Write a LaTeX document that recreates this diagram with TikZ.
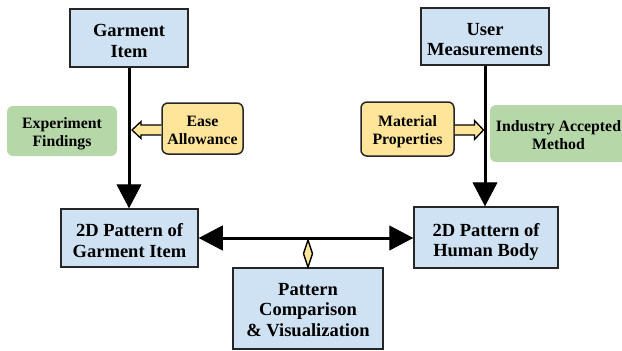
\documentclass[tikz,border=0pt]{standalone}
\usepackage{fontspec}
\setmainfont{Liberation Serif}
\usetikzlibrary{arrows.meta,calc}
\definecolor{boxblue}{HTML}{CFE2F3}
\definecolor{boxyellow}{HTML}{FFE599}
\definecolor{boxgreen}{HTML}{B6D7A8}
\tikzset{bigtip/.tip={Triangle[length=24pt,width=25pt,line width=1pt]}}
\begin{document}
\begin{tikzpicture}[x=1pt,y=-1pt,
  mainbox/.style={draw=black!85, line width=1.5pt, fill=boxblue, align=center, inner sep=0pt,
    font=\fontsize{18.5}{20.8}\selectfont\bfseries, text height=40pt, text depth=1.4pt},
  threelines/.style={text height=58pt, text depth=1.8pt},
  sidebox/.style={draw=black!85, line width=1.5pt, fill=boxyellow, rounded corners=6pt, align=center, inner sep=0pt,
    font=\fontsize{15.8}{18}\selectfont\bfseries, text height=33pt, text depth=2pt},
  greenbox/.style={fill=boxgreen, rounded corners=6pt, align=center, inner sep=0pt,
    font=\fontsize{15.8}{18}\selectfont\bfseries, text height=33pt, text depth=2pt},
  bigarrow/.style={line width=3pt},
  blockarrow/.style={draw=black, line width=1.3pt, fill=boxyellow, line join=miter},
]
\useasboundingbox (0,0) rectangle (622,351);

\node[mainbox, minimum width=118pt, minimum height=58pt] (garment) at (129,38) {Garment\\Item};
\node[mainbox, minimum width=128pt, minimum height=57pt] (user) at (485,36.5) {User\\Measurements};
\node[greenbox, minimum width=110pt, minimum height=50pt] (exp) at (62,131) {Experiment\\Findings};
\node[sidebox, minimum width=81pt, minimum height=51pt] (ease) at (202.5,128.5) {Ease\\Allowance};
\node[sidebox, minimum width=93pt, minimum height=54pt] (mat) at (407.5,129) {Material\\Properties};
\node[greenbox, minimum width=137pt, minimum height=57pt] (ind) at (558.5,133.5) {Industry Accepted\\Method};
\node[mainbox, minimum width=137pt, minimum height=58pt] (p2dg) at (129.5,238) {2D Pattern of\\Garment Item};
\node[mainbox, minimum width=144pt, minimum height=61pt] (p2dh) at (486,237.5) {2D Pattern of\\Human Body};
\node[mainbox, threelines, minimum width=150pt, minimum height=81pt] (comp) at (308,308.5) {Pattern\\Comparison\\\& Visualization};

% vertical arrows
\draw[bigarrow, -{bigtip}] (garment.south) -- (garment.south |- p2dg.north);
\draw[bigarrow, -{bigtip}] (user.south) -- (user.south |- p2dh.north);
% horizontal double arrow
\draw[bigarrow, {bigtip}-{bigtip}] (p2dg.east) -- (p2dg.east -| p2dh.west);

% block arrows
\coordinate (easetip) at ($(garment.south |- ease.west)+(3,1.5)$);
\draw[blockarrow] ($(ease.west)+(0,-3.5)$) -- ($(easetip)+(9,-5)$) -- ($(easetip)+(9,-8.5)$) -- (easetip)
  -- ($(easetip)+(9,8.5)$) -- ($(easetip)+(9,5)$) -- ($(ease.west)+(0,6.5)$);
\coordinate (mattip) at ($(user.south |- mat.east)+(-1.5,1)$);
\draw[blockarrow] ($(mat.east)+(0,-4)$) -- ($(mattip)+(-9,-5)$) -- ($(mattip)+(-9,-9.5)$) -- (mattip)
  -- ($(mattip)+(-9,9.5)$) -- ($(mattip)+(-9,5)$) -- ($(mat.east)+(0,6)$);

% diamond connector
\coordinate (dtop) at ($(comp.north |- p2dg.east)+(0,2)$);
\draw[draw=black, line width=1.4pt, fill=boxyellow, line join=miter]
  (dtop) -- ($(dtop)!0.5!(comp.north)+(4.5,0)$) -- (comp.north) -- ($(dtop)!0.5!(comp.north)+(-4.5,0)$) -- cycle;
\end{tikzpicture}
\end{document}
